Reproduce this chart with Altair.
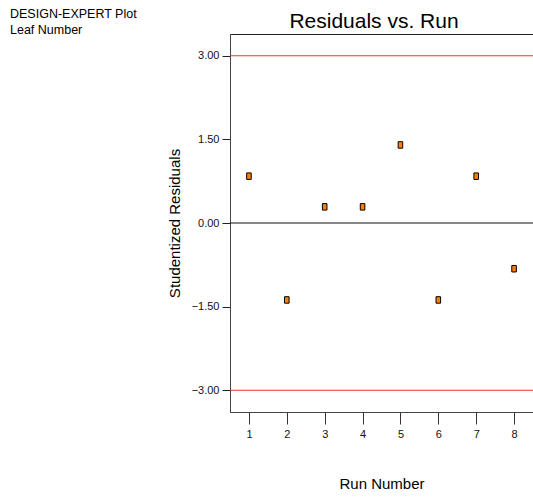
import altair as alt
import pandas as pd

# Studentized residuals by run order
runs = [1, 2, 3, 4, 5, 6, 7, 8]
residuals = [0.84, -1.38, 0.29, 0.29, 1.40, -1.38, 0.84, -0.82]
limits = [3.0, -3.0]
y_ticks = [-3.0, -1.5, 0.0, 1.5, 3.0]
x_ticks = runs
header_lines = ["DESIGN-EXPERT Plot", "Leaf Number"]
plot_title = "Residuals vs. Run"

points_df = pd.DataFrame({"run": runs, "resid": residuals})
limits_df = pd.DataFrame({"resid": limits})
zero_df = pd.DataFrame({"resid": [0.0]})
header_df = pd.DataFrame({"label": ["\n".join(header_lines)]})
title_df = pd.DataFrame({"label": [plot_title]})

FONT = "Liberation Sans"

x_scale = alt.Scale(domain=[0.5, 8.5], nice=False, zero=False)
y_scale = alt.Scale(domain=[-3.39, 3.39], nice=False, zero=False)

x_enc = alt.X(
    "run:Q",
    scale=x_scale,
    axis=alt.Axis(
        title="Run Number",
        values=x_ticks,
        format="d",
        tickSize=12,
        labelPadding=4,
        labelFontSize=11,
        labelFont=FONT,
        labelColor="#111",
        tickColor="#333",
        domainColor="#444",
        grid=False,
        titleFont=FONT,
        titleFontSize=15,
        titleFontWeight="normal",
        titleColor="#000",
        titlePadding=37,
    ),
)
y_axis = alt.Axis(
    title="Studentized Residuals",
    values=y_ticks,
    format=".2f",
    tickSize=8,
    labelPadding=3,
    labelFontSize=11,
    labelFont=FONT,
    labelColor="#111",
    tickColor="#222",
    domainColor="#444",
    grid=False,
    titleFont=FONT,
    titleFontSize=15,
    titleFontWeight="normal",
    titleColor="#000",
    titlePadding=9,
)
y_enc = alt.Y("resid:Q", scale=y_scale, axis=y_axis)

points = alt.Chart(points_df).mark_point(
    shape="M-0.7,-1H0.7V1H-0.7Z",
    size=42,
    filled=True,
    fill="#ff8000",
    stroke="#000",
    strokeWidth=1,
    opacity=1,
).encode(x=x_enc, y=y_enc)

limit_rules = alt.Chart(limits_df).mark_rule(color="#f03030", strokeWidth=1.2).encode(
    y=y_enc
)

zero_rule = alt.Chart(zero_df).mark_rule(color="#111", strokeWidth=1.2).encode(
    y=y_enc
)

header = alt.Chart(header_df).mark_text(
    align="left", baseline="top", font=FONT, fontSize=12.5, color="#000",
    lineBreak="\n", lineHeight=16,
).encode(
    x=alt.value(-220),
    y=alt.value(-26),
    text="label:N",
)

title = alt.Chart(title_df).mark_text(
    align="center", baseline="alphabetic", font=FONT, fontSize=21, color="#000",
).encode(
    x=alt.value(144),
    y=alt.value(-6),
    text="label:N",
)

chart = (
    alt.layer(limit_rules, zero_rule, points, header, title)
    .properties(
        width=303,
        height=378,
        autosize=alt.AutoSizeParams(type="none"),
        padding={"left": 230, "top": 34, "right": 0, "bottom": 86},
    )
    .configure_view(stroke="#222", strokeWidth=1)
)

chart.save("out.html", embed_options={"renderer": "svg", "actions": False})
